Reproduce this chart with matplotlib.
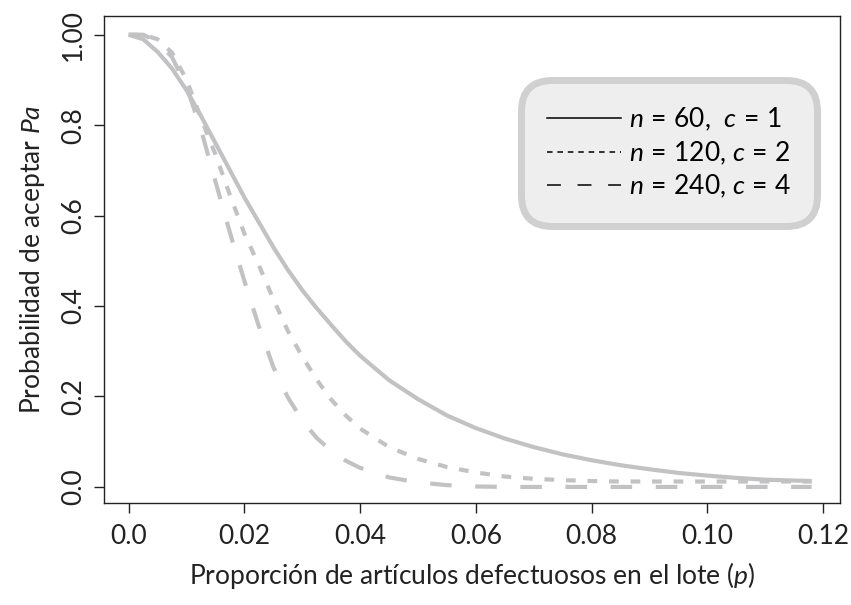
import numpy as np
import matplotlib
matplotlib.use("Agg")
import matplotlib.pyplot as plt

# valores
p_vals = [0.0, 0.0025, 0.005, 0.0075, 0.01, 0.0125, 0.015, 0.0175, 0.02, 0.0225,
          0.025, 0.0275, 0.03, 0.0325, 0.035, 0.0375, 0.04, 0.045, 0.05, 0.055,
          0.06, 0.065, 0.07, 0.075, 0.08, 0.085, 0.09, 0.095, 0.10, 0.105,
          0.11, 0.118]
pa_n60 = [1.0, 0.99, 0.962, 0.925, 0.877, 0.82, 0.76, 0.70, 0.640, 0.585,
          0.53, 0.48, 0.435, 0.395, 0.358, 0.322, 0.29, 0.236, 0.194, 0.158,
          0.130, 0.107, 0.088, 0.072, 0.059, 0.048, 0.039, 0.031, 0.025, 0.020,
          0.016, 0.013]
pa_n120 = [1.0, 1.0, 0.99, 0.96, 0.90, 0.815, 0.735, 0.645, 0.56, 0.49,
           0.415, 0.345, 0.288, 0.237, 0.193, 0.158, 0.129, 0.088, 0.062, 0.044,
           0.032, 0.023, 0.018, 0.015, 0.013, 0.012, 0.012, 0.012, 0.012, 0.012,
           0.012, 0.012]
pa_n240 = [1.0, 1.0, 0.985, 0.95, 0.885, 0.79, 0.675, 0.562, 0.455, 0.355,
           0.265, 0.198, 0.147, 0.108, 0.080, 0.058, 0.042, 0.021, 0.010, 0.004,
           0.001, 0.0, 0.0, 0.0, 0.0, 0.0, 0.0, 0.0, 0.0, 0.0,
           0.0, 0.0]

labels = [r'$n\,=\,60$,  $c\,=\,1$', r'$n\,=\,120$, $c\,=\,2$', r'$n\,=\,240$, $c\,=\,4$']
x_ticks = [0.0, 0.02, 0.04, 0.06, 0.08, 0.10, 0.12]
x_ticklabels = ['0.0', '0.02', '0.04', '0.06', '0.08', '0.10', '0.12']
y_ticks = [0.0, 0.2, 0.4, 0.6, 0.8, 1.0]
y_ticklabels = ['0.0', '0.2', '0.4', '0.6', '0.8', '1.00']

plt.rcParams['font.family'] = ['Lato', 'DejaVu Sans']
plt.rcParams['mathtext.fontset'] = 'custom'
plt.rcParams['mathtext.rm'] = 'Lato'
plt.rcParams['mathtext.it'] = 'Lato:italic'
plt.rcParams['lines.scale_dashes'] = False

gris = '#c2c2c4'
estilos = ['-', (0, (7, 8.5)), (0, (15.5, 17))]
estilos_ley = ['-', (0, (4, 3.5)), (0, (10, 12))]

fig = plt.figure(figsize=(8.51, 6.05), dpi=100)
ax = fig.add_axes([0.122, 0.169, 0.865, 0.805])

for serie, ls in zip([pa_n60, pa_n120, pa_n240], estilos):
    ax.plot(p_vals, serie, color=gris, linewidth=3.0, linestyle=ls,
            solid_capstyle='butt', dash_capstyle='butt')

ax.set_xlim(-0.0043, 0.1229)
ax.set_ylim(-0.035, 1.042)
ax.set_xticks(x_ticks)
ax.set_xticklabels(x_ticklabels)
ax.set_yticks(y_ticks)
ax.set_yticklabels(y_ticklabels, rotation=90, va='center')
ax.tick_params(direction='out', length=7, width=1, labelsize=19,
               colors='#222222', pad=8)
ax.tick_params(axis='y', pad=6)
for s in ax.spines.values():
    s.set_linewidth(1.0)
    s.set_color('#222222')

ax.set_xlabel(r'Proporción de artículos defectuosos en el lote ($p$)',
              fontsize=19, color='#222222', labelpad=8)
ax.set_ylabel(r'Probabilidad de aceptar $Pa$', fontsize=19, color='#222222',
              labelpad=10)

handles = [plt.Line2D([], [], color='black', linewidth=1.1, linestyle=ls)
           for ls in estilos_ley]
leg = ax.legend(handles, labels, loc='upper right',
                bbox_to_anchor=(0.98, 0.885), fontsize=19,
                handlelength=2.8, handletextpad=0.3, labelspacing=0.22,
                borderpad=0.8, fancybox=True, framealpha=1,
                facecolor='#eeeeee', edgecolor='#d0d0d0')
leg.get_frame().set_linewidth(5)
leg.get_frame().set_boxstyle('round,pad=0.2,rounding_size=1.2')

fig.savefig('out.png', dpi=100)
